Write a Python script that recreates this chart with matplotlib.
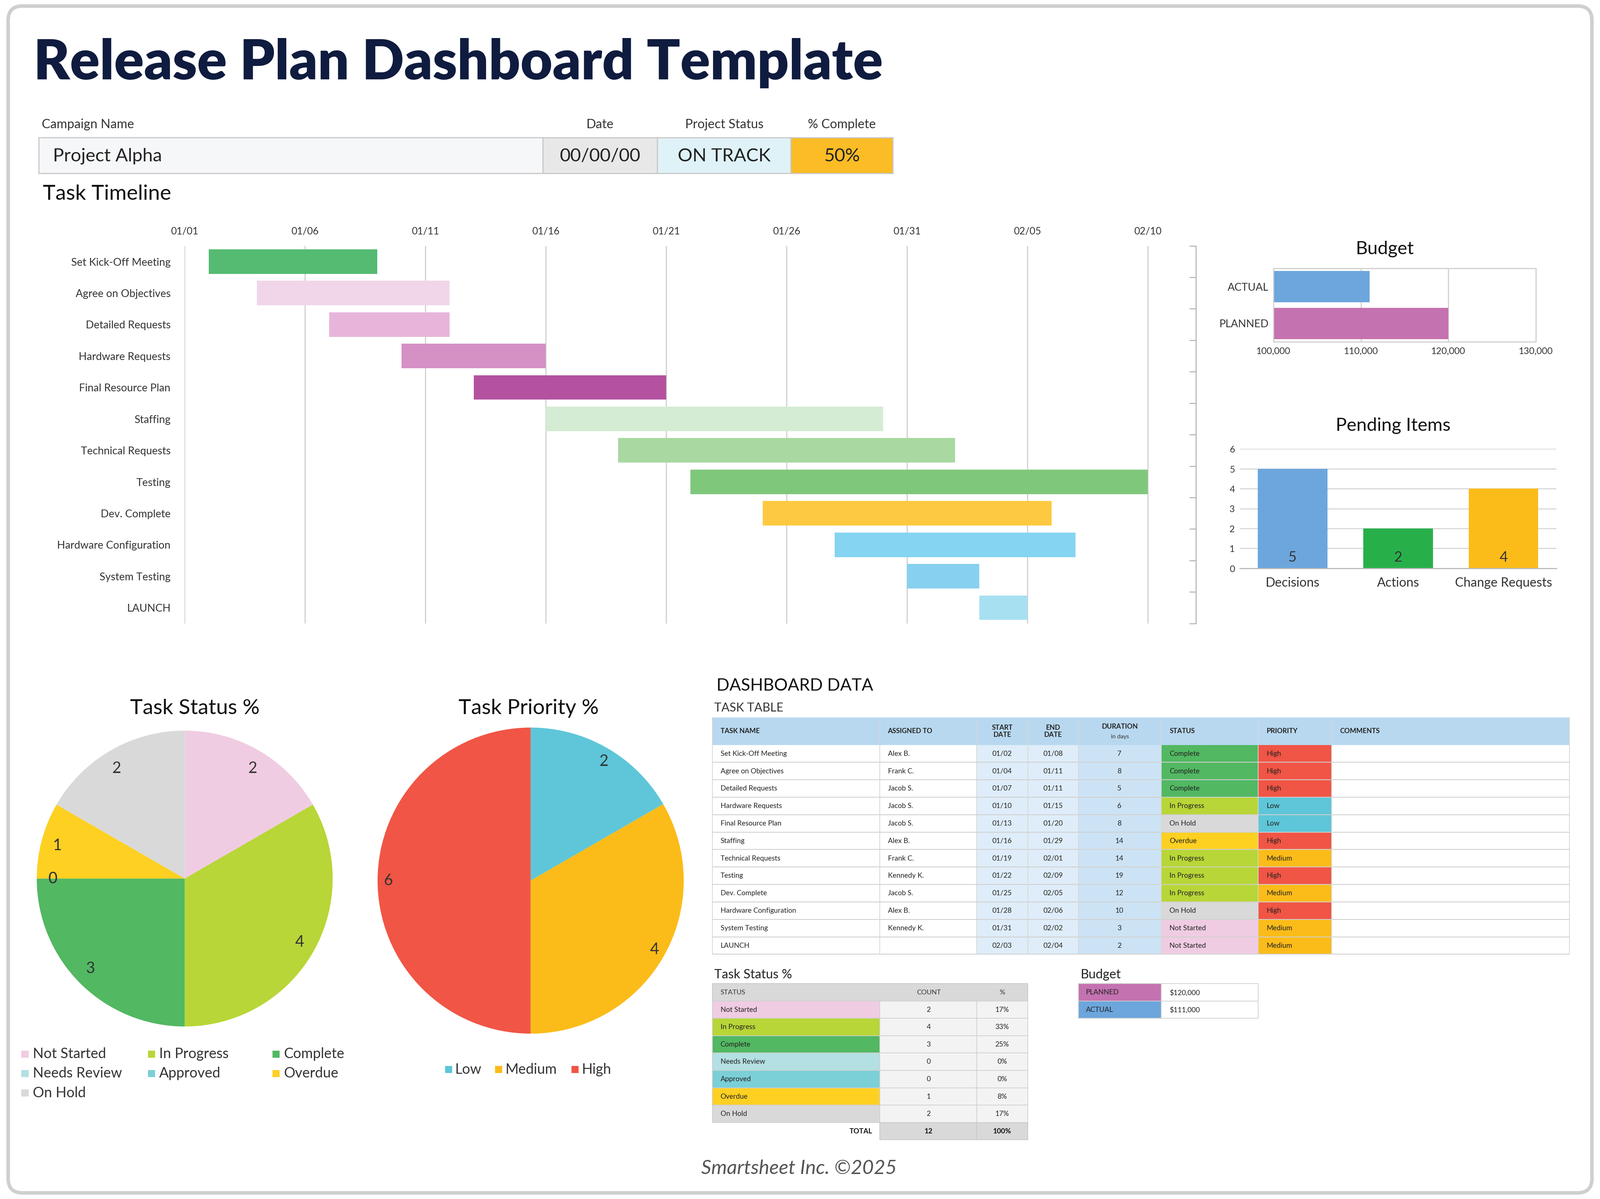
import matplotlib.pyplot as plt
import numpy as np
from matplotlib.patches import Rectangle, FancyBboxPatch

plt.rcParams['font.family'] = 'Lato'

# ---- data ----
tasks = ['Set Kick-Off Meeting', 'Agree on Objectives', 'Detailed Requests', 'Hardware Requests',
         'Final Resource Plan', 'Staffing', 'Technical Requests', 'Testing', 'Dev. Complete',
         'Hardware Configuration', 'System Testing', 'LAUNCH']
assigned = ['Alex B.', 'Frank C.', 'Jacob S.', 'Jacob S.', 'Jacob S.', 'Alex B.', 'Frank C.',
            'Kennedy K.', 'Jacob S.', 'Alex B.', 'Kennedy K.', '']
start_dates = ['01/02', '01/04', '01/07', '01/10', '01/13', '01/16', '01/19', '01/22', '01/25', '01/28', '01/31', '02/03']
end_dates = ['01/08', '01/11', '01/11', '01/15', '01/20', '01/29', '02/01', '02/09', '02/05', '02/06', '02/02', '02/04']
start_day = [1, 3, 6, 9, 12, 15, 18, 21, 24, 27, 30, 33]   # days after 01/01
durations = [7, 8, 5, 6, 8, 14, 14, 19, 12, 10, 3, 2]
task_status = ['Complete', 'Complete', 'Complete', 'In Progress', 'On Hold', 'Overdue', 'In Progress',
               'In Progress', 'In Progress', 'On Hold', 'Not Started', 'Not Started']
task_priority = ['High', 'High', 'High', 'Low', 'Low', 'High', 'Medium', 'High', 'Medium', 'High', 'Medium', 'Medium']
bar_colors = ['#55bb72', '#f1d6e9', '#e7b5d9', '#d590c4', '#b4529f', '#d3ecd3', '#a9d8a1', '#7fc87b',
              '#fdc940', '#84d4f2', '#88d0f0', '#a6e0f1']
gantt_ticks = [0, 5, 10, 15, 20, 25, 30, 35, 40]
gantt_tick_labels = ['01/01', '01/06', '01/11', '01/16', '01/21', '01/26', '01/31', '02/05', '02/10']

budget_labels = ['ACTUAL', 'PLANNED']
budget_values = [111000, 120000]
budget_colors = ['#6ca6dc', '#c472b0']

pending_labels = ['Decisions', 'Actions', 'Change Requests']
pending_values = [5, 2, 4]
pending_colors = ['#6ca6dc', '#27b04a', '#fbbc19']

status_names = ['Not Started', 'In Progress', 'Complete', 'Needs Review', 'Approved', 'Overdue', 'On Hold']
status_counts = [2, 4, 3, 0, 0, 1, 2]
status_pct = ['17%', '33%', '25%', '0%', '0%', '8%', '17%']
status_colors = ['#f0cce2', '#b8d637', '#52b862', '#b3e0e2', '#7bcfd6', '#fdd022', '#d9d9d9']

priority_names = ['Low', 'Medium', 'High']
priority_counts = [2, 4, 6]
priority_colors = ['#5ec6d8', '#fbbc19', '#f15545']

W, H = 1568, 1175
fig = plt.figure(figsize=(15.68, 11.753), dpi=273.74)


def rect(x0, y0, x1, y1):
    return [x0 / W, 1 - y1 / H, (x1 - x0) / W, (y1 - y0) / H]


# overlay axes in pixel coordinates
bg = fig.add_axes([0, 0, 1, 1])
bg.set_xlim(0, W)
bg.set_ylim(H, 0)
bg.axis('off')
bg.add_patch(FancyBboxPatch((8, 6), W - 16, H - 12, boxstyle='round,pad=0,rounding_size=14',
                            fc='white', ec='#cfcfcf', lw=2.5))

bg.text(33, 62, 'Release Plan Dashboard Template', fontsize=39, fontweight='black', color='#0f1c3f', va='center')

# header boxes
for x, txt in [(41, 'Campaign Name'), (588, 'Date'), (710, 'Project Status'), (825, '% Complete')]:
    bg.text(x, 122, txt, fontsize=9, ha='left' if x == 41 else 'center', va='center', color='#333333')
for x0, x1, fc, txt, ha in [(38, 532, '#f6f7f9', 'Project Alpha', 'left'), (532, 644, '#e8e8e8', '00/00/00', 'center'),
                            (644, 775, '#dff2f8', 'ON TRACK', 'center'), (775, 875, '#fbbc26', '50%', 'center')]:
    bg.add_patch(Rectangle((x0, 135), x1 - x0, 35, fc=fc, ec='#c8c8c8', lw=0.8))
    bg.text(52 if ha == 'left' else (x0 + x1) / 2, 153, txt, fontsize=13, ha=ha, va='center', color='#222222')

bg.text(42, 190, 'Task Timeline', fontsize=15, va='center', color='#111111')

# ---- gantt ----
ax = fig.add_axes(rect(181, 241, 1172, 611))
y = np.arange(len(tasks))
ax.barh(y, durations, left=start_day, color=bar_colors, height=0.78)
ax.set_xlim(0, 42)
ax.set_ylim(len(tasks) - 0.5, -0.5)
ax.set_yticks(y)
ax.set_yticklabels(tasks, fontsize=7.5, color='#333333')
ax.set_xticks(gantt_ticks)
ax.set_xticklabels(gantt_tick_labels, fontsize=7, color='#333333')
ax.xaxis.tick_top()
ax.tick_params(axis='x', length=0, pad=7)
ax.tick_params(axis='y', length=0, pad=10)
ax.grid(axis='x', color='#d0d0d0', lw=0.8)
ax.set_axisbelow(True)
for s in ['top', 'left', 'bottom']:
    ax.spines[s].set_visible(False)
ax.spines['right'].set_color('#bbbbbb')
for yy in np.arange(len(tasks) + 1) - 0.5:
    ax.plot([41.75, 42], [yy, yy], color='#bbbbbb', lw=0.8, clip_on=False)

# ---- budget ----
ab = fig.add_axes(rect(1248, 263, 1505, 335))
ab.barh([0, 1], np.array(budget_values) - 100000, left=100000, color=budget_colors, height=0.85)
ab.set_xlim(100000, 130000)
ab.set_ylim(1.5, -0.5)
ab.set_yticks([0, 1])
ab.set_yticklabels(budget_labels, fontsize=7.5, color='#333333')
ab.set_xticks([100000, 110000, 120000, 130000])
ab.set_xticklabels(['100,000', '110,000', '120,000', '130,000'], fontsize=6.5, color='#333333')
ab.tick_params(length=0)
ab.grid(axis='x', color='#d0d0d0', lw=0.8)
ab.set_axisbelow(True)
for s in ab.spines.values():
    s.set_color('#d0d0d0')
bg.text(1357, 244, 'Budget', fontsize=13, ha='center', va='center', color='#111111')

# ---- pending items ----
ap = fig.add_axes(rect(1215, 440, 1525, 557))
xp = np.arange(len(pending_labels))
ap.bar(xp, pending_values, color=pending_colors, width=0.66)
ap.set_ylim(0, 6)
ap.set_xlim(-0.5, 2.5)
ap.set_yticks(range(7))
ap.tick_params(axis='y', labelsize=6.5, length=0, labelcolor='#333333')
ap.set_xticks(xp)
ap.set_xticklabels(pending_labels, fontsize=9, color='#333333')
ap.tick_params(axis='x', length=0, pad=6)
ap.grid(axis='y', color='#d8d8d8', lw=0.8)
ap.set_axisbelow(True)
for s in ['top', 'right', 'left']:
    ap.spines[s].set_visible(False)
ap.spines['bottom'].set_color('#bbbbbb')
for xi, v in zip(xp, pending_values):
    ap.text(xi, 0.55, str(v), ha='center', va='center', fontsize=10, color='#333333')
bg.text(1365, 417, 'Pending Items', fontsize=13, ha='center', va='center', color='#111111')

# ---- pies ----
a1 = fig.add_axes(rect(36, 716, 326, 1006))
a1.pie(status_counts, colors=status_colors, startangle=90, counterclock=False,
       labels=[str(c) for c in status_counts], labeldistance=0.86,
       textprops=dict(fontsize=11, color='#333333'))
a1.set_xlim(-1, 1)
a1.set_ylim(-1, 1)
a1.set_aspect('equal')
bg.text(191, 694, 'Task Status %', fontsize=15, ha='center', va='center', color='#111111')

a2 = fig.add_axes(rect(370, 713, 670, 1013))
a2.pie(priority_counts, colors=priority_colors, startangle=90, counterclock=False,
       labels=[str(c) for c in priority_counts], labeldistance=0.9,
       textprops=dict(fontsize=11, color='#333333'))
a2.set_xlim(-1, 1)
a2.set_ylim(-1, 1)
a2.set_aspect('equal')
bg.text(518, 694, 'Task Priority %', fontsize=15, ha='center', va='center', color='#111111')

# legends
leg_pos = [(22, 1033), (146, 1033), (268, 1033), (22, 1052), (146, 1052), (268, 1052), (22, 1071)]
for (lx, ly), name, c in zip(leg_pos, status_names, status_colors):
    bg.add_patch(Rectangle((lx - 1, ly - 3.5), 7, 7, fc=c, ec='none'))
    bg.text(lx + 10, ly, name, fontsize=10, va='center', color='#333333')
for lx, name, c in zip([437, 486, 561], priority_names, priority_colors):
    bg.add_patch(Rectangle((lx - 1, 1048 - 3.5), 7, 7, fc=c, ec='none'))
    bg.text(lx + 9, 1048, name, fontsize=10, va='center', color='#333333')

# ---- dashboard data tables ----
bg.text(702, 672, 'DASHBOARD DATA', fontsize=12, va='center', color='#111111')
bg.text(700, 694, 'TASK TABLE', fontsize=8.5, va='center', color='#333333')

cols = [698, 862, 957, 1007, 1057, 1138, 1233, 1305, 1538]
bg.add_patch(Rectangle((698, 703), 1538 - 698, 27, fc='#b8d8f0', ec='none'))
heads = ['TASK NAME', 'ASSIGNED TO', 'START\nDATE', 'END\nDATE', 'DURATION', 'STATUS', 'PRIORITY', 'COMMENTS']
for i, h in enumerate(heads):
    center = i in (2, 3, 4)
    xt = (cols[i] + cols[i + 1]) / 2 if center else cols[i] + 8
    bg.text(xt, 716.5 if i != 4 else 712, h, fontsize=4.8, fontweight='bold', ha='center' if center else 'left',
            va='center', color='#222222', linespacing=1.1)
    bg.plot([cols[i], cols[i]], [703, 935], color='#d6d6d6', lw=0.5)
bg.text((cols[4] + cols[5]) / 2, 722, 'in days', fontsize=4.2, ha='center', va='center', color='#333333')
bg.plot([1538, 1538], [703, 935], color='#d6d6d6', lw=0.5)

stat_col = dict(zip(status_names, status_colors))
prio_col = dict(zip(priority_names, priority_colors))
rh = 17.1
for r in range(len(tasks)):
    y0 = 730 + r * rh
    bg.add_patch(Rectangle((957, y0), 50, rh, fc='#deedf9', ec='none'))
    bg.add_patch(Rectangle((1007, y0), 50, rh, fc='#deedf9', ec='none'))
    bg.add_patch(Rectangle((1057, y0), 81, rh, fc='#cce3f5', ec='none'))
    bg.add_patch(Rectangle((1138, y0), 95, rh, fc=stat_col[task_status[r]], ec='none'))
    bg.add_patch(Rectangle((1233, y0), 72, rh, fc=prio_col[task_priority[r]], ec='none'))
    yc = y0 + rh / 2
    bg.text(706, yc, tasks[r], fontsize=5, va='center', color='#222222')
    bg.text(870, yc, assigned[r], fontsize=5, va='center', color='#222222')
    bg.text(982, yc, start_dates[r], fontsize=5, ha='center', va='center', color='#222222')
    bg.text(1032, yc, end_dates[r], fontsize=5, ha='center', va='center', color='#222222')
    bg.text(1097, yc, str(durations[r]), fontsize=5, ha='center', va='center', color='#222222')
    bg.text(1146, yc, task_status[r], fontsize=5, va='center', color='#222222')
    bg.text(1241, yc, task_priority[r], fontsize=5, va='center', color='#222222')
    bg.plot([698, 1538], [y0 + rh, y0 + rh], color='#d0d0d0', lw=0.6)
for x in cols:
    bg.plot([x, x], [730, 935], color='#d6d6d6', lw=0.5)

# status table
bg.text(700, 955, 'Task Status %', fontsize=9, va='center', color='#222222')
bg.add_patch(Rectangle((698, 964), 309, 17, fc='#d9d9d9', ec='#c8c8c8', lw=0.5))
bg.text(706, 972.5, 'STATUS', fontsize=4.8, va='center', color='#333333')
bg.text(910, 972.5, 'COUNT', fontsize=4.8, ha='center', va='center', color='#333333')
bg.text(982, 972.5, '%', fontsize=4.8, ha='center', va='center', color='#333333')
for r, name in enumerate(status_names):
    y0 = 981 + r * 17
    bg.add_patch(Rectangle((698, y0), 164, 17, fc=status_colors[r], ec='#d0d0d0', lw=0.5))
    bg.add_patch(Rectangle((862, y0), 145, 17, fc='#f3f3f3', ec='#d0d0d0', lw=0.5))
    bg.plot([957, 957], [y0, y0 + 17], color='#d0d0d0', lw=0.5)
    bg.text(706, y0 + 8.5, name, fontsize=5, va='center', color='#222222')
    bg.text(910, y0 + 8.5, str(status_counts[r]), fontsize=5, ha='center', va='center', color='#222222')
    bg.text(982, y0 + 8.5, status_pct[r], fontsize=5, ha='center', va='center', color='#222222')
bg.add_patch(Rectangle((862, 1100), 145, 17, fc='#d9d9d9', ec='#c8c8c8', lw=0.5))
bg.plot([957, 957], [1100, 1117], color='#c8c8c8', lw=0.5)
bg.text(855, 1108.5, 'TOTAL', fontsize=5, fontweight='bold', ha='right', va='center', color='#111111')
bg.text(910, 1108.5, str(sum(status_counts)), fontsize=5, fontweight='bold', ha='center', va='center', color='#111111')
bg.text(982, 1108.5, '100%', fontsize=5, fontweight='bold', ha='center', va='center', color='#111111')

# budget table
bg.text(1059, 955, 'Budget', fontsize=9, va='center', color='#222222')
for r, (lab, val, c) in enumerate(zip(['PLANNED', 'ACTUAL'], [budget_values[1], budget_values[0]],
                                      [budget_colors[1], budget_colors[0]])):
    y0 = 964 + r * 17
    bg.add_patch(Rectangle((1057, y0), 81, 17, fc=c, ec='#d0d0d0', lw=0.5))
    bg.add_patch(Rectangle((1138, y0), 95, 17, fc='white', ec='#d0d0d0', lw=0.5))
    bg.text(1064, y0 + 8.5, lab, fontsize=5, va='center', color='#222222')
    bg.text(1146, y0 + 8.5, '${:,}'.format(val), fontsize=5, va='center', color='#222222')

bg.text(783, 1145, 'Smartsheet Inc. \u00a92025', fontsize=14, style='italic', ha='center', va='center', color='#555555')

fig.savefig('out.png', dpi=273.74)
